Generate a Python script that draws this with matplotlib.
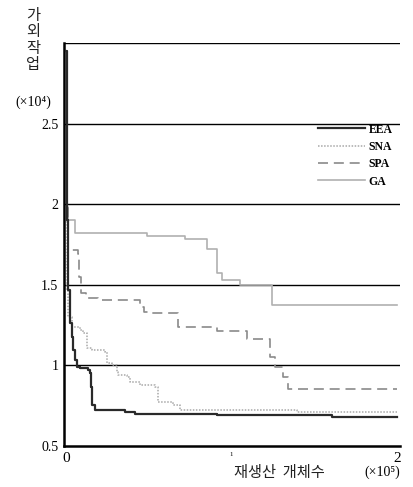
import matplotlib
matplotlib.use("Agg")
import matplotlib.pyplot as plt

plt.rcParams['font.family'] = ['Liberation Serif', 'DejaVu Serif']

# convergence curves (x in 1e5 offspring, y in 1e4)
eea_x = [0, 0.004, 0.012, 0.024, 0.036, 0.042, 0.054, 0.066, 0.085, 0.133, 0.145, 0.150, 0.157,
         0.175, 0.356, 0.417, 0.912, 1.607, 2.0]
eea_y = [2.95, 1.9, 1.469, 1.264, 1.177, 1.096, 1.034, 0.991, 0.984, 0.972, 0.953, 0.866, 0.755,
         0.724, 0.711, 0.699, 0.693, 0.680, 0.680]

sna_x = [0, 0.004, 0.008, 0.012, 0.036, 0.085, 0.103, 0.127, 0.157, 0.236, 0.248, 0.278, 0.308,
         0.314, 0.369, 0.387, 0.447, 0.538, 0.556, 0.647, 0.689, 1.396, 2.0]
sna_y = [2.95, 2.0, 1.47, 1.30, 1.239, 1.22, 1.20, 1.11, 1.096, 1.084, 1.016, 1.003, 0.96,
         0.941, 0.929, 0.898, 0.879, 0.866, 0.773, 0.755, 0.724, 0.711, 0.711]

spa_x = [0, 0.006, 0.012, 0.07, 0.08, 0.09, 0.12, 0.193, 0.447, 0.47, 0.495, 0.677, 0.912,
         1.094, 1.233, 1.263, 1.311, 1.341, 2.0]
spa_y = [2.95, 2.0, 1.717, 1.69, 1.55, 1.45, 1.42, 1.407, 1.36, 1.33, 1.326, 1.239, 1.214,
         1.165, 1.05, 0.99, 0.929, 0.854, 0.854]

ga_x = [0, 0.006, 0.012, 0.055, 0.49, 0.72, 0.85, 0.91, 0.945, 1.05, 1.245, 2.0]
ga_y = [2.95, 1.98, 1.90, 1.82, 1.80, 1.785, 1.725, 1.575, 1.53, 1.50, 1.375, 1.375]

yticks = [0.5, 1, 1.5, 2, 2.5]
ytick_labels = ['0.5', '1', '1.5', '2', '2.5']
grid_levels = [1, 1.5, 2, 2.5, 3]

fig = plt.figure(figsize=(4.13, 4.87), dpi=100)
ax = fig.add_axes([64 / 413, 41 / 487, 336 / 413, 403 / 487])

for g in grid_levels:
    ax.axhline(g, color='black', lw=1.0, zorder=1)

ax.plot(eea_x, eea_y, drawstyle='steps-post', color='#2a2a2a', lw=1.6, label='EEA', zorder=5)
ax.plot(sna_x, sna_y, drawstyle='steps-post', color='#a8a8a8', lw=1.1, ls=(0, (1, 1)), label='SNA', zorder=4)
ax.plot(spa_x, spa_y, drawstyle='steps-post', color='#8a8a8a', lw=1.2, ls=(0, (6, 3.5)), label='SPA', zorder=3)
ax.plot(ga_x, ga_y, drawstyle='steps-post', color='#b0b0b0', lw=1.2, label='GA', zorder=2)

ax.set_xlim(-0.012, 2.018)
ax.set_ylim(0.5, 3.0)
for s in ['top', 'right']:
    ax.spines[s].set_visible(False)
ax.spines['left'].set_linewidth(1.8)
ax.spines['bottom'].set_linewidth(1.8)

ax.set_yticks(yticks)
ax.set_yticklabels(ytick_labels, fontsize=10)
ax.set_xticks([0, 1, 2])
ax.set_xticklabels(['0', '1', '2'], fontsize=11)
ax.get_xticklabels()[1].set_fontsize(5)
ax.tick_params(length=0, pad=4)

leg = ax.legend(loc='upper left', bbox_to_anchor=(0.756, 0.80), frameon=False,
                fontsize=8.5, handlelength=4.0, handletextpad=0.3, labelspacing=0.45,
                borderpad=0, borderaxespad=0)
for t in leg.get_texts():
    t.set_fontweight('bold')

fig.text(33 / 413, 1 - 102 / 487, '(×10⁴)', ha='center', va='center', fontsize=10)
fig.text(33 / 413, 1 - 40 / 487, '가\n외\n작\n업', ha='center', va='center', fontsize=11,
         linespacing=0.95, family=['Noto Sans CJK KR', 'DejaVu Sans'], color='#222222')
fig.text(279 / 413, 1 - 472 / 487, '재생산  개체수', ha='center', va='center', fontsize=11,
         family=['Noto Sans CJK KR', 'DejaVu Sans'], color='#222222')
fig.text(382 / 413, 1 - 472 / 487, '(×10⁵)', ha='center', va='center', fontsize=10)

fig.savefig('out.png', dpi=100)
